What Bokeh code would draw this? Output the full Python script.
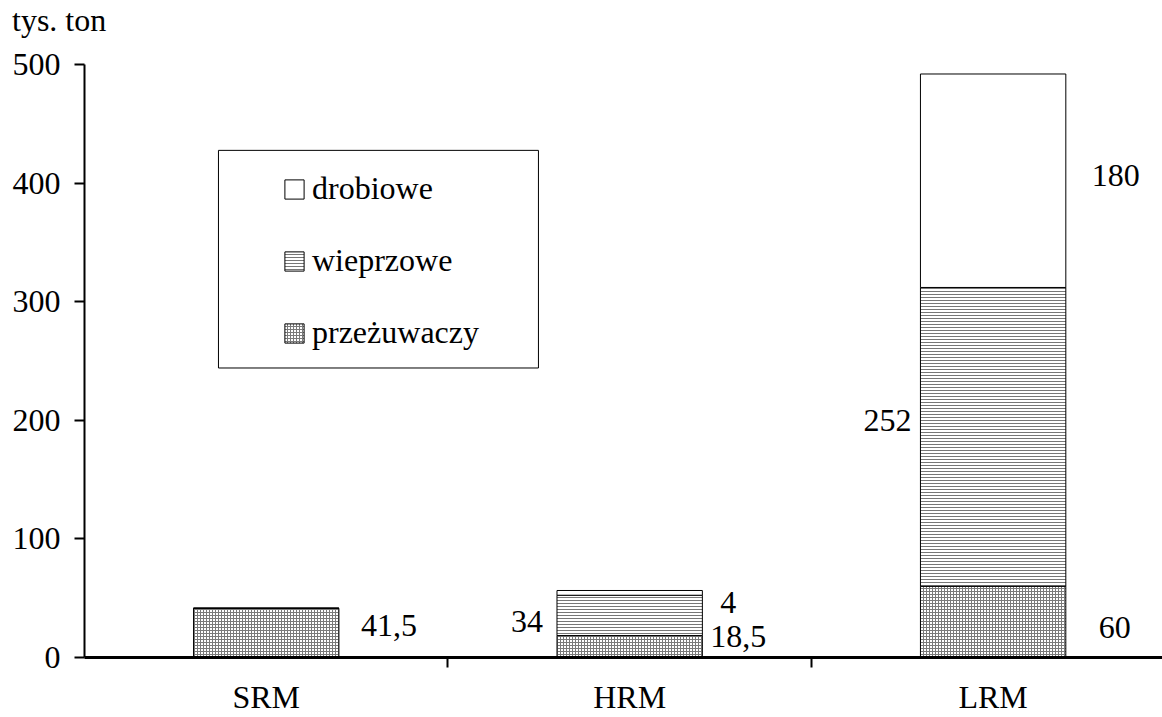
from bokeh.plotting import figure
from bokeh.layouts import column
from bokeh.models import (ColumnDataSource, FixedTicker, Range1d, Legend, LegendItem,
                          BoxAnnotation, Div)
from bokeh.core.properties import value
from bokeh.embed import file_html
from bokeh.resources import INLINE

# Production by meat-material category (thousand tonnes)
categories = ["SRM", "HRM", "LRM"]
przezuwaczy = [41.5, 18.5, 60]
wieprzowe = [0, 34, 252]
drobiowe = [0, 4, 180]
series_names = ["przeżuwaczy", "wieprzowe", "drobiowe"]
y_ticks = [0, 100, 200, 300, 400, 500]
unit_label = "tys. ton"

FONT = "Liberation Serif"
FS = "32px"

x_pos = [0.5, 1.5, 2.5]
source = ColumnDataSource(dict(x=x_pos, przezuwaczy=przezuwaczy,
                               wieprzowe=wieprzowe, drobiowe=drobiowe))

# unit caption in a strip above the plot
caption = Div(text=unit_label, width=1162, height=40, margin=0,
              styles={"font-family": FONT, "font-size": FS, "color": "black",
                      "line-height": "40px", "padding-left": "12px",
                      "white-space": "nowrap"})

p = figure(width=1162, height=677, output_backend="svg", toolbar_location=None,
           x_range=Range1d(0, 2.966), y_range=Range1d(0, 500),
           min_border_left=84, min_border_right=0, min_border_top=24,
           min_border_bottom=59, margin=0)
p.outline_line_color = None
p.xgrid.visible = False
p.ygrid.visible = False
p.background_fill_color = "white"

renderers = p.vbar_stack(
    ["przezuwaczy", "wieprzowe", "drobiowe"], x="x", width=0.4, source=source,
    fill_color="white", line_color="black", line_width=1,
    hatch_pattern=["+", "-", " "], hatch_color=["#7a7a7a", "#777777", "white"],
    hatch_scale=3, hatch_weight=1)

# legend: glyphs + labels, framed by a separate box
legend = Legend(items=[LegendItem(label=series_names[i], renderers=[renderers[i]])
                       for i in (2, 1, 0)],
                location=(198, 306), orientation="vertical",
                label_text_font=FONT, label_text_font_size=FS,
                label_text_color="black",
                glyph_width=24, glyph_height=24, label_height=36,
                label_standoff=6, spacing=35, padding=0, margin=0,
                border_line_alpha=0, background_fill_alpha=0)
p.add_layout(legend, "center")
p.add_layout(BoxAnnotation(left=0.3686, right=1.249, bottom=244.1, top=427.6,
                           fill_alpha=0, line_color="black", line_alpha=1,
                           line_width=1))

# value labels next to the segments
fmt = lambda v: f"{v:g}".replace(".", ",")
lab_text = [fmt(przezuwaczy[0]),
            fmt(wieprzowe[1]), fmt(przezuwaczy[1]), fmt(drobiowe[1]),
            fmt(wieprzowe[2]), fmt(drobiowe[2]), fmt(przezuwaczy[2])]
lab_x = [0.7, 1.3, 1.7, 1.7, 2.3, 2.7, 2.7]
lab_y = [27, 30, 18, 46, 200, 406, 25]
lab_dx = [22, -14, 8, 18, -9, 26, 33]
lab_align = ["left", "right", "left", "left", "right", "left", "left"]
lsrc = ColumnDataSource(dict(x=lab_x, y=lab_y, t=lab_text, dx=lab_dx, a=lab_align))
p.text(x="x", y="y", text="t", x_offset="dx", text_align="a", source=lsrc,
       text_baseline="middle", text_font=value(FONT), text_font_size=FS,
       text_color="black")

# x axis: labels at category centres, ticks at category boundaries
xa = p.xaxis[0]
xa.ticker = FixedTicker(ticks=x_pos, minor_ticks=[1, 2])
xa.major_label_overrides = {x_pos[i]: categories[i] for i in range(3)}
xa.major_tick_line_color = None
xa.major_tick_in = 0
xa.major_tick_out = 0
xa.minor_tick_in = 0
xa.minor_tick_out = 10
xa.minor_tick_line_width = 2
xa.minor_tick_line_color = "black"
xa.axis_line_width = 3
xa.axis_line_color = "black"
xa.major_label_text_font = FONT
xa.major_label_text_font_size = FS
xa.major_label_text_color = "black"
xa.major_label_standoff = 11

ya = p.yaxis[0]
ya.ticker = FixedTicker(ticks=y_ticks)
ya.minor_tick_line_color = None
ya.major_tick_in = 0
ya.major_tick_out = 10
ya.major_tick_line_width = 2
ya.major_tick_line_color = "black"
ya.axis_line_width = 2
ya.axis_line_color = "black"
ya.major_label_text_font = FONT
ya.major_label_text_font_size = FS
ya.major_label_text_color = "black"
ya.major_label_standoff = 14

layout = column(caption, p, spacing=0, margin=0)
open("out.html", "w").write(file_html(layout, INLINE))
